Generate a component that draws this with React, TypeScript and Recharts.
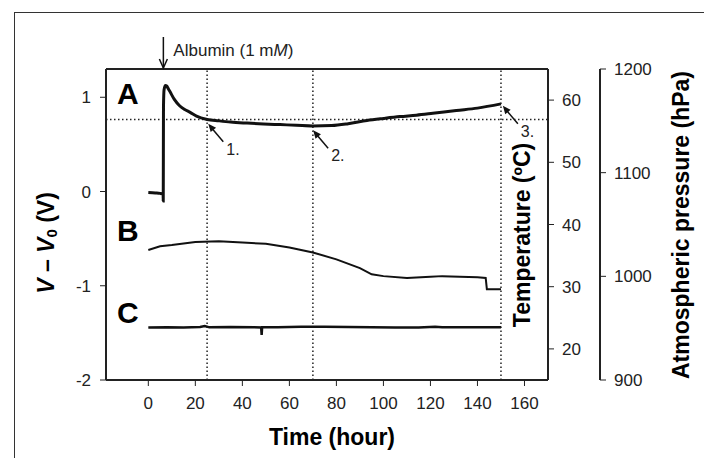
import React from 'react';
import { LineChart, Line, XAxis, YAxis, ReferenceLine, ReferenceDot } from 'recharts';

// Trace A: electrode voltage V - V0 (V)
const hoursA = [0, 3, 5, 6.3, 6.35, 6.45, 6.7, 7.3, 7.8, 8.5, 9.2, 11, 13.3, 15.5, 17.8, 20.5, 25, 30, 35, 42, 49, 56, 63, 70, 78, 85, 93, 100, 107, 114, 121, 131, 140, 150];
const voltA = [-0.01, -0.015, -0.02, -0.03, -0.1, 0.9, 1.08, 1.125, 1.12, 1.09, 1.06, 0.98, 0.91, 0.87, 0.84, 0.8, 0.765, 0.75, 0.737, 0.726, 0.717, 0.71, 0.703, 0.695, 0.7, 0.72, 0.753, 0.775, 0.795, 0.81, 0.83, 0.86, 0.885, 0.93];

// Trace B: temperature (ºC)
const hoursB = [0, 5, 10, 20, 30, 40, 50, 60, 70, 80, 90, 95, 100, 110, 120, 125, 140, 143.5, 144, 150];
const tempB = [35.9, 36.5, 36.7, 37.2, 37.3, 37.1, 36.9, 36.3, 35.5, 34.4, 33.0, 32.0, 31.7, 31.4, 31.6, 31.7, 31.5, 31.4, 29.6, 29.6];

// Trace C: atmospheric pressure (hPa)
const hoursC = [0, 8, 15, 22, 24, 26, 35, 45, 48, 48.2, 48.4, 55, 65, 75, 85, 95, 105, 115, 122, 125, 130, 140, 150];
const pressureC = [950.6, 950.9, 950.7, 951.2, 952.0, 950.8, 951.1, 950.9, 950.7, 943.6, 950.9, 951.0, 951.3, 951.4, 951.2, 950.9, 950.6, 950.7, 951.4, 951.0, 950.8, 951.0, 950.9];

const markerHours = [25, 70, 150];
const thresholdVolt = 0.765;
const albuminHour = 6.4;
const pointHours = [25.5, 70.1, 150.8];
const pointVolts = [0.72, 0.65, 0.91];
const pointLabels = ['1.', '2.', '3.'];
const panelLetters = ['A', 'B', 'C'];
const panelVolts = [0.933, -0.52, -1.39];
const panelHour = -13.3;

const xTicks = [0, 20, 40, 60, 80, 100, 120, 140, 160];
const voltTicks = [-2, -1, 0, 1];
const tempTicks = [20, 30, 40, 50, 60];
const pressureTicks = [900, 1000, 1100, 1200];

const seriesA = hoursA.map((h, i) => ({ hour: h, value: voltA[i] }));
const seriesB = hoursB.map((h, i) => ({ hour: h, value: tempB[i] }));
const seriesC = hoursC.map((h, i) => ({ hour: h, value: pressureC[i] }));

const FONT = '"Liberation Sans", Arial, sans-serif';
const tickStyle = { fill: '#222', fontSize: 17, fontFamily: FONT };

const VoltTitle = (props: any) => {
  const vb = props.viewBox || { x: 30, y: 69, width: 76, height: 311 };
  const cx = vb.x + 16;
  const cy = 243;
  return (
    <text x={cx} y={cy} transform={`rotate(-90 ${cx} ${cy})`} textAnchor="middle" dominantBaseline="central"
      fontFamily={FONT} fontSize={23} fontWeight="bold" fill="#000">
      <tspan fontStyle="italic">V</tspan> – <tspan fontStyle="italic">V</tspan>
      <tspan fontSize={15} dy={5}>0</tspan>
      <tspan dy={-5}> (V)</tspan>
    </text>
  );
};

const TempTitle = (props: any) => {
  const vb = props.viewBox || { x: 548, y: 69, width: 52, height: 311 };
  const cx = vb.x - 26;
  const cy = 235;
  return (
    <text x={cx} y={cy} transform={`rotate(-90 ${cx} ${cy})`} textAnchor="middle" dominantBaseline="central"
      fontFamily={FONT} fontSize={23} fontWeight="bold" fill="#000">
      Temperature (ºC)
    </text>
  );
};

const PressureTitle = (props: any) => {
  const vb = props.viewBox || { x: 600, y: 69, width: 96, height: 311 };
  const cx = vb.x + 81;
  const cy = 225;
  return (
    <text x={cx} y={cy} transform={`rotate(-90 ${cx} ${cy})`} textAnchor="middle" dominantBaseline="central"
      fontFamily={FONT} fontSize={23} fontWeight="bold" fill="#000">
      Atmospheric pressure (hPa)
    </text>
  );
};

const TimeTitle = (props: any) => {
  const vb = props.viewBox || { x: 106, y: 380, width: 442, height: 60 };
  return (
    <text x={vb.x + vb.width / 2 + 5} y={vb.y + 65} textAnchor="middle"
      fontFamily={FONT} fontSize={23} fontWeight="bold" fill="#000">
      Time (hour)
    </text>
  );
};

const PointerArrow = ({ cx, cy, text }: any) => (
  <g>
    <line x1={cx + 15} y1={cy + 18} x2={cx + 4} y2={cy + 5} stroke="#111" strokeWidth={1.5} />
    <polygon points={`${cx},${cy} ${cx + 7.8},${cy + 4} ${cx + 2.4},${cy + 8.4}`} fill="#111" />
    <text x={cx + 18} y={cy + 31} fontFamily={FONT} fontSize={16} fill="#222">{text}</text>
  </g>
);

const AlbuminArrow = ({ cx, cy }: any) => (
  <g>
    <line x1={cx} y1={cy - 32} x2={cx} y2={cy - 1} stroke="#111" strokeWidth={1.5} />
    <polyline points={`${cx - 4},${cy - 10} ${cx},${cy - 1} ${cx + 4},${cy - 10}`} fill="none" stroke="#111" strokeWidth={1.5} />
    <text x={cx + 10} y={cy - 13} fontFamily={FONT} fontSize={17} fill="#222">
      Albumin (1 m<tspan fontStyle="italic">M</tspan>)
    </text>
  </g>
);

const PanelLetter = ({ cx, cy, text }: any) => (
  <text x={cx} y={cy} fontFamily={FONT} fontSize={30} fontWeight="bold" fill="#000">{text}</text>
);

export default function App() {
  return (
    <div style={{ position: 'relative', width: 712, height: 466, margin: -8, overflow: 'hidden', background: '#fff' }}>
      <div style={{ position: 'absolute', left: 14, top: 12, width: 692, height: 470, border: '1.5px solid #333' }} />
      <LineChart width={712} height={466} margin={{ top: 69, right: 16, bottom: 26, left: 30 }}>
        <XAxis type="number" dataKey="hour" domain={[-18, 170]} ticks={xTicks} allowDataOverflow
          height={60} tick={tickStyle} tickSize={6} tickMargin={11}
          axisLine={{ stroke: '#222', strokeWidth: 2 }} tickLine={{ stroke: '#222' }}
          label={{ content: (p: any) => <TimeTitle {...p} /> }} />
        <YAxis yAxisId="a_volt" orientation="left" width={76} domain={[-2, 1.3]} ticks={voltTicks} allowDataOverflow
          tick={tickStyle} tickSize={6} tickMargin={9}
          axisLine={{ stroke: '#222', strokeWidth: 2 }} tickLine={{ stroke: '#222' }}
          label={{ content: (p: any) => <VoltTitle {...p} /> }} />
        <YAxis yAxisId="b_temp" orientation="right" width={52} domain={[15, 65]} ticks={tempTicks} allowDataOverflow
          tick={tickStyle} tickSize={6} tickMargin={8}
          axisLine={{ stroke: '#222', strokeWidth: 2 }} tickLine={{ stroke: '#222' }}
          label={{ content: (p: any) => <TempTitle {...p} /> }} />
        <YAxis yAxisId="c_pressure" orientation="right" width={96} domain={[900, 1200]} ticks={pressureTicks} allowDataOverflow
          tick={tickStyle} tickSize={6} tickMargin={8}
          axisLine={{ stroke: '#222', strokeWidth: 2 }} tickLine={{ stroke: '#222' }}
          label={{ content: (p: any) => <PressureTitle {...p} /> }} />

        <ReferenceLine yAxisId="a_volt" y={1.3} stroke="#222" strokeWidth={2} />
        {markerHours.map(h => (
          <ReferenceLine key={h} yAxisId="a_volt" x={h} stroke="#222" strokeWidth={1.5} strokeDasharray="1.5 2.5" />
        ))}
        <ReferenceLine yAxisId="a_volt" y={thresholdVolt} stroke="#222" strokeWidth={1.5} strokeDasharray="1.5 2.5" />

        <Line yAxisId="a_volt" data={seriesA} dataKey="value" type="monotone" stroke="#111" strokeWidth={3} dot={false} isAnimationActive={false} />
        <Line yAxisId="b_temp" data={seriesB} dataKey="value" type="linear" stroke="#111" strokeWidth={2} dot={false} isAnimationActive={false} />
        <Line yAxisId="c_pressure" data={seriesC} dataKey="value" type="linear" stroke="#111" strokeWidth={2.5} dot={false} isAnimationActive={false} />

        <ReferenceDot yAxisId="a_volt" x={albuminHour} y={1.3} ifOverflow="visible" shape={(p: any) => <AlbuminArrow {...p} />} />
        {pointHours.map((h, i) => (
          <ReferenceDot key={pointLabels[i]} yAxisId="a_volt" x={h} y={pointVolts[i]} ifOverflow="visible"
            shape={(p: any) => <PointerArrow {...p} text={pointLabels[i]} />} />
        ))}
        {panelLetters.map((l, i) => (
          <ReferenceDot key={l} yAxisId="a_volt" x={panelHour} y={panelVolts[i]} ifOverflow="visible"
            shape={(p: any) => <PanelLetter {...p} text={l} />} />
        ))}
      </LineChart>
    </div>
  );
}
